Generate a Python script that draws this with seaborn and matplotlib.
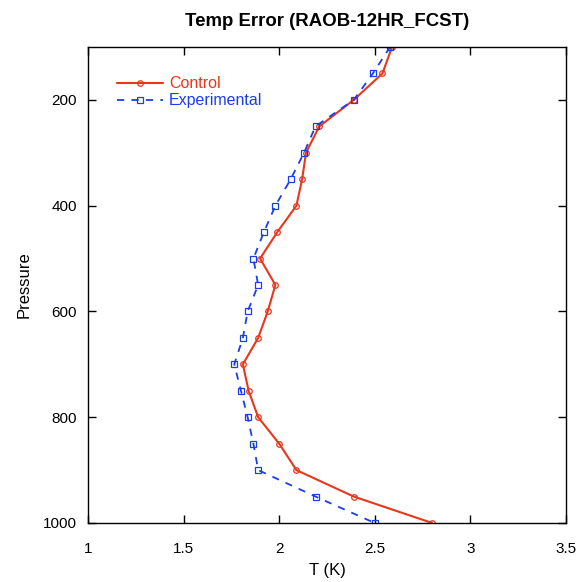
import pandas as pd
import matplotlib
matplotlib.use("Agg")
import matplotlib.pyplot as plt
import seaborn as sns

pressure = [100, 150, 200, 250, 300, 350, 400, 450, 500, 550,
            600, 650, 700, 750, 800, 850, 900, 950, 1000]
control = [2.59, 2.54, 2.39, 2.21, 2.14, 2.12, 2.09, 1.99, 1.90, 1.98,
           1.94, 1.89, 1.81, 1.84, 1.89, 2.00, 2.09, 2.39, 2.80]
experimental = [2.58, 2.49, 2.39, 2.19, 2.13, 2.06, 1.98, 1.92, 1.865, 1.89,
                1.835, 1.81, 1.765, 1.80, 1.835, 1.865, 1.89, 2.19, 2.50]

sns.set_style("ticks")
plt.rcParams['font.family'] = ['Liberation Sans', 'DejaVu Sans']
plt.rcParams['text.color'] = 'black'
plt.rcParams['axes.labelcolor'] = 'black'
plt.rcParams['xtick.color'] = 'black'
plt.rcParams['ytick.color'] = 'black'
plt.rcParams['axes.edgecolor'] = 'black'

df = pd.DataFrame({"Pressure": pressure, "Control": control, "Experimental": experimental})

fig = plt.figure(figsize=(5.78, 5.82), dpi=100)
ax = fig.add_axes([88 / 578, 1 - 523 / 582, 478 / 578, 476 / 582])

sns.lineplot(x="Control", y="Pressure", data=df, sort=False, orient="y", ax=ax,
             color="#e8371c", linewidth=1.5, marker="o", markersize=4,
             markerfacecolor="none", markeredgecolor="#e8371c", markeredgewidth=0.9,
             label="Control")
sns.lineplot(x="Experimental", y="Pressure", data=df, sort=False, orient="y", ax=ax,
             color="#1a3ee8", linewidth=1.3, linestyle=(0, (4, 4)), marker="s", markersize=4,
             markerfacecolor="none", markeredgecolor="#1a3ee8", markeredgewidth=0.9,
             label="Experimental")

ax.set_xlim(1, 3.5)
ax.set_ylim(1000, 100)
ax.set_xticks([1, 1.5, 2, 2.5, 3, 3.5])
ax.set_xticklabels(["1", "1.5", "2", "2.5", "3", "3.5"])
ax.set_yticks([200, 400, 600, 800, 1000])
ax.tick_params(direction="in", top=True, right=True, length=6, width=1,
               labelsize=11)
ax.tick_params(axis="x", pad=14)
ax.tick_params(axis="y", pad=8)
for s in ax.spines.values():
    s.set_linewidth(1)
ax.set_xlabel("T (K)", fontsize=12, labelpad=5)
ax.set_ylabel("Pressure", fontsize=12, labelpad=8)
ax.set_title("Temp Error (RAOB-12HR_FCST)", fontsize=13.4, fontweight="bold", pad=15)

leg = ax.legend(loc="upper left", bbox_to_anchor=(0.047, 0.952), frameon=False,
                fontsize=11.5, handlelength=2.9, handletextpad=0.35, labelspacing=0.12,
                borderaxespad=0)
for text, line in zip(leg.get_texts(), leg.get_lines()):
    text.set_color(line.get_color())

fig.savefig("out.png", dpi=100)
